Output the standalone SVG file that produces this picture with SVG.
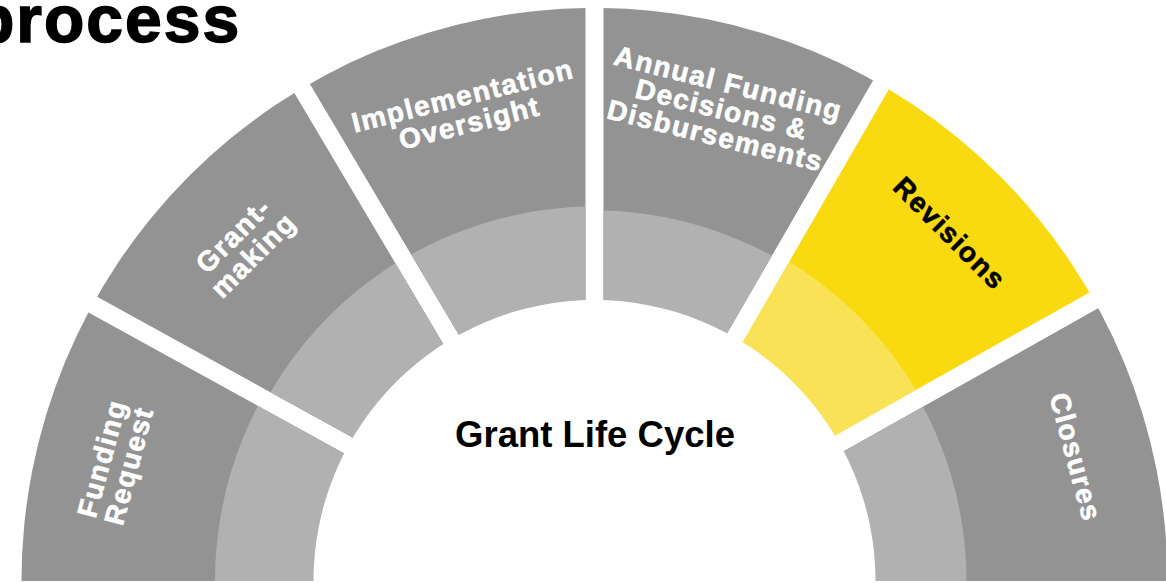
<svg xmlns="http://www.w3.org/2000/svg" width="1166" height="583" viewBox="0 0 1166 583">
  <style>
    .dark { fill: #939393; }
    .light { fill: #b1b1b1; }
    .ydark { fill: #f9d90f; }
    .ylight { fill: #fae257; }
    .lbl { font-family: "Liberation Sans", Arial, sans-serif; font-weight: bold; font-size: 28px; letter-spacing: 1.5px; fill: #ffffff; stroke: #ffffff; stroke-width: 0.6px; text-anchor: middle; }
    .lbl.blk { fill: #000000; stroke: #000000; }
    .title { font-family: "Liberation Sans", Arial, sans-serif; font-weight: bold; fill: #000000; }
  </style>
  <defs>
    <clipPath id="c1"><polygon points="594.5,581 -105.5,581 -22.97,251.13 590.16,588.88"/></clipPath>
    <clipPath id="c2"><polygon points="598.84,573.12 -14.29,235.37 229.41,-16.34 586.76,585.59"/></clipPath>
    <clipPath id="c3"><polygon points="602.24,576.41 244.89,-25.52 585.5,-119 585.5,581"/></clipPath>
    <clipPath id="c4"><polygon points="603.5,581 603.5,-119 936.71,-29.7 586.71,576.5"/></clipPath>
    <clipPath id="c5"><polygon points="602.29,585.5 952.29,-20.7 1200.28,230.15 590.09,573.15"/></clipPath>
    <clipPath id="c6"><polygon points="598.91,588.85 1209.1,245.85 1294.5,581 594.5,581"/></clipPath>
  </defs>

  <rect width="1166" height="583" fill="#ffffff"/>

  <text class="title" x="-26" y="42" font-size="66" letter-spacing="2" stroke="#000000" stroke-width="1.5">process</text>

  <g id="funding-request">
    <g clip-path="url(#c1)">
      <circle class="dark" cx="594.5" cy="581" r="573"/>
      <circle class="light" cx="594.5" cy="581" r="379.5"/>
    </g>
    <g transform="translate(115,462) rotate(-75)">
      <text class="lbl" y="-4">Funding</text>
      <text class="lbl" y="24">Request</text>
    </g>
  </g>

  <g id="grant-making">
    <g clip-path="url(#c2)">
      <circle class="dark" cx="594.5" cy="581" r="573"/>
      <circle class="light" cx="594.5" cy="581" r="375"/>
    </g>
    <g transform="translate(243,245) rotate(-45)">
      <text class="lbl" y="-4">Grant-</text>
      <text class="lbl" y="24">making</text>
    </g>
  </g>

  <g id="implementation-oversight">
    <g clip-path="url(#c3)">
      <circle class="dark" cx="594.5" cy="581" r="573"/>
      <circle class="light" cx="594.5" cy="581" r="374.5"/>
    </g>
    <g transform="translate(466,109) rotate(-14)">
      <text class="lbl" y="-4">Implementation</text>
      <text class="lbl" y="24">Oversight</text>
    </g>
  </g>

  <g id="annual-funding">
    <g clip-path="url(#c4)">
      <circle class="dark" cx="594.5" cy="581" r="573"/>
      <circle class="light" cx="594.5" cy="581" r="370.5"/>
    </g>
    <g transform="translate(722,109) rotate(14)">
      <text class="lbl" y="-17">Annual Funding</text>
      <text class="lbl" y="10">Decisions &amp;</text>
      <text class="lbl" y="37">Disbursements</text>
    </g>
  </g>

  <g id="revisions">
    <g clip-path="url(#c5)">
      <circle class="ydark" cx="594.5" cy="581" r="573"/>
      <circle class="ylight" cx="594.5" cy="581" r="374"/>
    </g>
    <g transform="translate(950,233) rotate(45)">
      <text class="lbl blk" y="10">Revisions</text>
    </g>
  </g>

  <g id="closures">
    <g clip-path="url(#c6)">
      <circle class="dark" cx="594.5" cy="581" r="573"/>
      <circle class="light" cx="594.5" cy="581" r="372"/>
    </g>
    <g transform="translate(1076,457) rotate(75)">
      <text class="lbl" y="10">Closures</text>
    </g>
  </g>

  <g id="hub">
    <circle cx="594.5" cy="581" r="281" fill="#ffffff"/>
    <text class="title" x="595" y="447" font-size="36.5" text-anchor="middle">Grant Life Cycle</text>
  </g>

  <g id="connectors"></g>
</svg>
